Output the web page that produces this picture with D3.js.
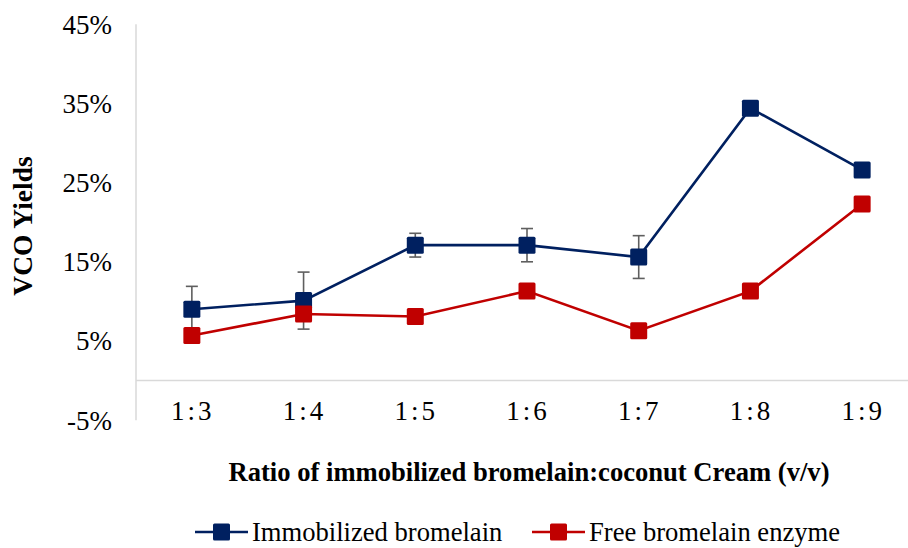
<!DOCTYPE html>
<html>
<head>
<meta charset="utf-8">
<script src="https://cdn.jsdelivr.net/npm/d3@7"></script>
<style>
  body { margin: 0; background: #fff; }
  text { font-family: "Liberation Serif", "Times New Roman", serif; }
</style>
</head>
<body>
<div class="canvas"></div>
<script>
// data (percent)
const ratios = ['1:3', '1:4', '1:5', '1:6', '1:7', '1:8', '1:9'];
const immobilized = [9.0, 10.1, 17.1, 17.1, 15.6, 34.4, 26.6];
const immobilizedErr = [2.9, 3.6, 1.5, 2.1, 2.7, 0, 0];
const free = [5.7, 8.4, 8.1, 11.3, 6.3, 11.3, 22.3];
const yTicks = [-5, 5, 15, 25, 35, 45];

const dims = { width: 908, height: 548 };
const plot = { left: 136, right: 918, top: 24.2, bottom: 420.2 };
const blue = '#002060', red = '#c00000', axisGrey = '#d9d9d9', errGrey = '#5f5f5f';

const svg = d3.select('.canvas').append('svg')
  .attr('width', dims.width)
  .attr('height', dims.height);

const x = d3.scaleBand()
  .domain(ratios)
  .range([plot.left, plot.right])
  .padding(0);

const y = d3.scaleLinear()
  .domain([-5, 45])
  .range([plot.bottom, plot.top]);

const cx = d => x(d) + x.bandwidth() / 2;

// axes lines
svg.append('line')
  .attr('x1', plot.left).attr('x2', plot.left)
  .attr('y1', y(45)).attr('y2', y(-5))
  .attr('stroke', axisGrey).attr('stroke-width', 1.5);

svg.append('line')
  .attr('x1', plot.left).attr('x2', dims.width)
  .attr('y1', y(0)).attr('y2', y(0))
  .attr('stroke', axisGrey).attr('stroke-width', 1.5);

// y tick labels
svg.append('g').selectAll('text')
  .data(yTicks)
  .enter().append('text')
  .attr('x', 112)
  .attr('y', d => y(d))
  .attr('dy', '0.35em')
  .attr('text-anchor', 'end')
  .attr('font-size', 27)
  .attr('fill', '#000')
  .text(d => d + '%');

// x tick labels
svg.append('g').selectAll('text')
  .data(ratios)
  .enter().append('text')
  .attr('x', d => cx(d) + 1)
  .attr('y', 420)
  .attr('text-anchor', 'middle')
  .attr('font-size', 27)
  .attr('letter-spacing', 3)
  .attr('fill', '#000')
  .text(d => d);

// axis titles
svg.append('text')
  .attr('transform', `translate(32, 226) rotate(-90)`)
  .attr('text-anchor', 'middle')
  .attr('font-size', 27.5)
  .attr('font-weight', 'bold')
  .text('VCO Yields');

svg.append('text')
  .attr('x', 529)
  .attr('y', 481)
  .attr('text-anchor', 'middle')
  .attr('font-size', 26.6)
  .attr('font-weight', 'bold')
  .text('Ratio of immobilized bromelain:coconut Cream (v/v)');

// error bars
const errG = svg.append('g');
ratios.forEach((r, i) => {
  const e = immobilizedErr[i];
  if (!e) return;
  const top = y(immobilized[i] + e), bot = y(immobilized[i] - e), xc = cx(r);
  errG.append('line').attr('x1', xc).attr('x2', xc).attr('y1', top).attr('y2', bot)
    .attr('stroke', errGrey).attr('stroke-width', 1.6);
  [top, bot].forEach(yy => {
    errG.append('line').attr('x1', xc - 6).attr('x2', xc + 6).attr('y1', yy).attr('y2', yy)
      .attr('stroke', errGrey).attr('stroke-width', 1.6);
  });
});

const line = d3.line()
  .x((d, i) => cx(ratios[i]))
  .y(d => y(d));

const series = [
  { name: 'Immobilized bromelain', values: immobilized, colour: blue },
  { name: 'Free bromelain enzyme', values: free, colour: red }
];

const mk = 17;
series.forEach(s => {
  const g = svg.append('g');
  g.append('path')
    .attr('d', line(s.values))
    .attr('fill', 'none')
    .attr('stroke', s.colour)
    .attr('stroke-width', 2.6);
  g.selectAll('rect')
    .data(s.values)
    .enter().append('rect')
    .attr('x', (d, i) => cx(ratios[i]) - mk / 2)
    .attr('y', d => y(d) - mk / 2)
    .attr('width', mk).attr('height', mk)
    .attr('rx', 1.5)
    .attr('fill', s.colour);
});

// legend
const legendX = [195, 532];
series.forEach((s, i) => {
  const g = svg.append('g').attr('transform', `translate(${legendX[i]}, 532)`);
  g.append('line').attr('x1', 0).attr('x2', 53).attr('y1', 0).attr('y2', 0)
    .attr('stroke', s.colour).attr('stroke-width', 2.6);
  g.append('rect').attr('x', 26.5 - mk / 2).attr('y', -mk / 2)
    .attr('width', mk).attr('height', mk).attr('rx', 1.5).attr('fill', s.colour);
  g.append('text').attr('x', 57).attr('y', 0).attr('dy', '0.35em')
    .attr('font-size', 26.6).text(s.name);
});
</script>
</body>
</html>
